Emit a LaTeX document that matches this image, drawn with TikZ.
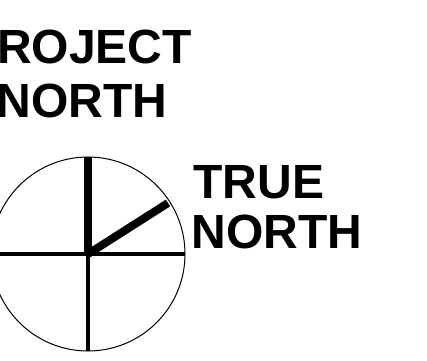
\documentclass[tikz,border=0pt]{standalone}
\usepackage{fontspec}
\setmainfont{Liberation Sans}
\begin{document}
\begin{tikzpicture}[x=1pt,y=1pt,
  lbl/.style={inner sep=0pt,font=\fontsize{48}{54}\selectfont\bfseries},
  thin/.style={line width=1pt},
  mid/.style={line width=4pt},
  heavy/.style={line width=8pt}]
\useasboundingbox (0,0) rectangle (427,360);
\clip (0,0) rectangle (427,360);
\coordinate (C) at (88,106);
\coordinate (Ntop) at (88,203);
\coordinate (Sbot) at (88,9);
\coordinate (W) at (-12,106);
\coordinate (E) at (185,106);
\coordinate (T) at (168,157);
\draw[thin] (C) circle[radius=97];
\draw[mid] (W) -- (E);
\draw[mid] (C) -- (Sbot);
\draw[heavy] (C) -- (Ntop);
\draw[heavy] (C) -- (T);
\node[lbl,anchor=base west] (pj) at (-35,297) {PROJECT};
\node[lbl,anchor=base west] (pn) at (-3.5,243) {NORTH};
\node[lbl,anchor=base west] (tt) at (193.3,162) {TRUE};
\node[lbl,anchor=base west] (tn) at (191.5,112) {NORTH};
\end{tikzpicture}
\end{document}
